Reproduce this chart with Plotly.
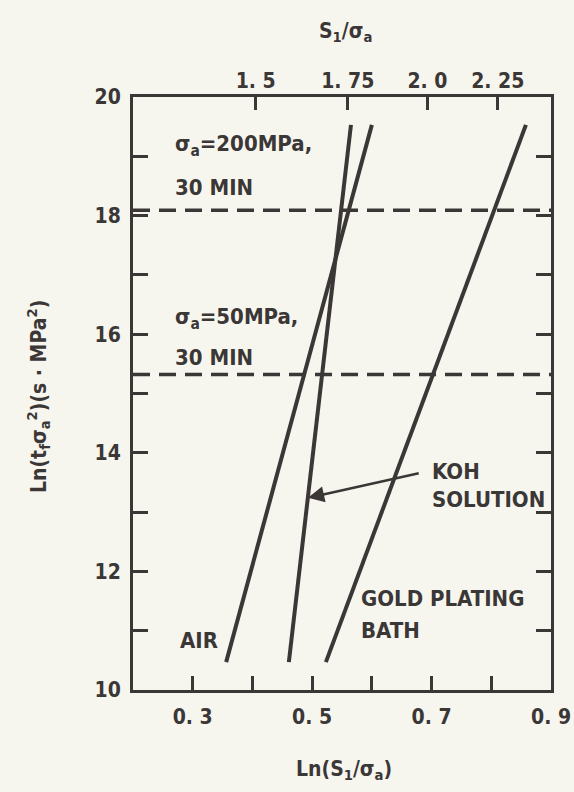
import numpy as np
import plotly.graph_objects as go

# ---- data ----
air_x = [0.356, 0.600]
air_y = [10.47, 19.53]
koh_x = [0.461, 0.565]
koh_y = [10.47, 19.53]
gold_x = [0.523, 0.858]
gold_y = [10.47, 19.53]

dash_levels = [18.09, 15.32]          # ln(t*sigma^2) for 200 MPa / 50 MPa, 30 min
x_range = [0.2, 0.9]
y_range = [10, 20]

x_tickvals = [0.3, 0.5, 0.7, 0.9]
x_ticktext = ["0. 3", "0. 5", "0. 7", "0. 9"]
x_minorvals = [0.4, 0.6, 0.8]
y_tickvals = [10, 12, 14, 16, 18, 20]
y_ticktext = ["10", "12", "14", "16", "18", "20"]
y_minorvals = [11, 13, 15, 17, 19]
top_ratio_vals = [1.5, 1.75, 2.0, 2.25]
top_ticktext = ["1. 5", "1. 75", "2. 0", "2. 25"]

INK = "#3b3737"
BG = "#f7f6ee"
FONT = "DejaVu Sans Condensed, DejaVu Sans, sans-serif"

# plot frame in pixels
L, R, T, B = 133, 551, 97, 690
W, H = 574, 792

def px(xp):
    return (xp - L) / (R - L)

def py(yp):
    return (B - yp) / (B - T)

fig = go.Figure()

for xs, ys in [(air_x, air_y), (koh_x, koh_y), (gold_x, gold_y)]:
    fig.add_trace(go.Scatter(x=xs, y=ys, mode="lines",
                             line=dict(color=INK, width=4),
                             showlegend=False, hoverinfo="skip"))

for lv in dash_levels:
    fig.add_trace(go.Scatter(x=x_range, y=[lv, lv], mode="lines",
                             line=dict(color=INK, width=3.5, dash="17px,9px"),
                             showlegend=False, hoverinfo="skip"))

# invisible trace to anchor the top axis
fig.add_trace(go.Scatter(x=x_range, y=y_range, xaxis="x2", mode="markers",
                         marker=dict(opacity=0), showlegend=False, hoverinfo="skip"))

axis_font = dict(family=FONT, size=21, color=INK, weight="bold")

fig.update_layout(
    width=W, height=H,
    margin=dict(l=L, r=W - R, t=T, b=H - B),
    paper_bgcolor=BG, plot_bgcolor=BG,
    xaxis=dict(range=x_range, tickmode="array", tickvals=x_tickvals, ticktext=x_ticktext,
               ticks="inside", ticklen=14, tickwidth=3, tickcolor=INK,
               minor=dict(tickmode="array", tickvals=x_minorvals, ticks="inside",
                          ticklen=14, tickwidth=3, tickcolor=INK, showgrid=False),
               showline=True, linewidth=3, linecolor=INK, mirror=True,
               showgrid=False, zeroline=False, tickfont=axis_font,
               ticklabelstandoff=6, automargin=False),
    xaxis2=dict(range=x_range, overlaying="x", side="top",
                tickmode="array", tickvals=list(np.log(top_ratio_vals)), ticktext=top_ticktext,
                ticks="inside", ticklen=13, tickwidth=3, tickcolor=INK,
                showline=False, showgrid=False, zeroline=False,
                tickfont=axis_font, ticklabelstandoff=4, automargin=False),
    yaxis=dict(range=y_range, tickmode="array", tickvals=y_tickvals, ticktext=y_ticktext,
               ticks="inside", ticklen=15, tickwidth=3, tickcolor=INK,
               minor=dict(tickmode="array", tickvals=y_minorvals, ticks="inside",
                          ticklen=15, tickwidth=3, tickcolor=INK, showgrid=False),
               showline=True, linewidth=3, linecolor=INK, mirror="ticks",
               showgrid=False, zeroline=False, tickfont=axis_font,
               ticklabelstandoff=5, automargin=False),
)

ann_font = dict(family=FONT, size=22, color=INK, weight="bold")
texts = [
    ("σ<sub>a</sub>=200MPa,", 0.267, 19.19),
    ("30 MIN", 0.267, 18.48),
    ("σ<sub>a</sub>=50MPa,", 0.267, 16.27),
    ("30 MIN", 0.267, 15.60),
    ("KOH", 0.697, 13.69),
    ("SOLUTION", 0.697, 13.22),
    ("GOLD PLATING", 0.579, 11.55),
    ("BATH", 0.579, 11.01),
    ("AIR", 0.275, 10.83),
]
for t, x, y in texts:
    fig.add_annotation(text=t, x=x, y=y, xref="x", yref="y",
                       xanchor="left", yanchor="middle", showarrow=False,
                       font=ann_font)

# arrow pointing to the KOH line
fig.add_annotation(x=0.493, y=13.24, ax=0.681, ay=13.66, xref="x", yref="y",
                   axref="x", ayref="y", text="", showarrow=True,
                   arrowhead=2, arrowsize=1.3, arrowwidth=2.5, arrowcolor=INK)

# axis titles
title_font = dict(family=FONT, size=21, color=INK, weight="bold")
fig.add_annotation(text="S<sub>1</sub>/σ<sub>a</sub>", x=px(345), y=py(32),
                   xref="paper", yref="paper", xanchor="center", yanchor="middle",
                   showarrow=False, font=title_font)
fig.add_annotation(text="Ln(S<sub>1</sub>/σ<sub>a</sub>)", x=px(344), y=py(770),
                   xref="paper", yref="paper", xanchor="center", yanchor="middle",
                   showarrow=False, font=title_font)
fig.add_annotation(text="Ln(t<sub>f</sub>σ<sub>a</sub><sup>2</sup>)(s · MPa<sup>2</sup>)",
                   x=px(38), y=py(397), xref="paper", yref="paper",
                   xanchor="center", yanchor="middle",
                   showarrow=False, textangle=-90, font=title_font)

fig.write_html("out.html")
